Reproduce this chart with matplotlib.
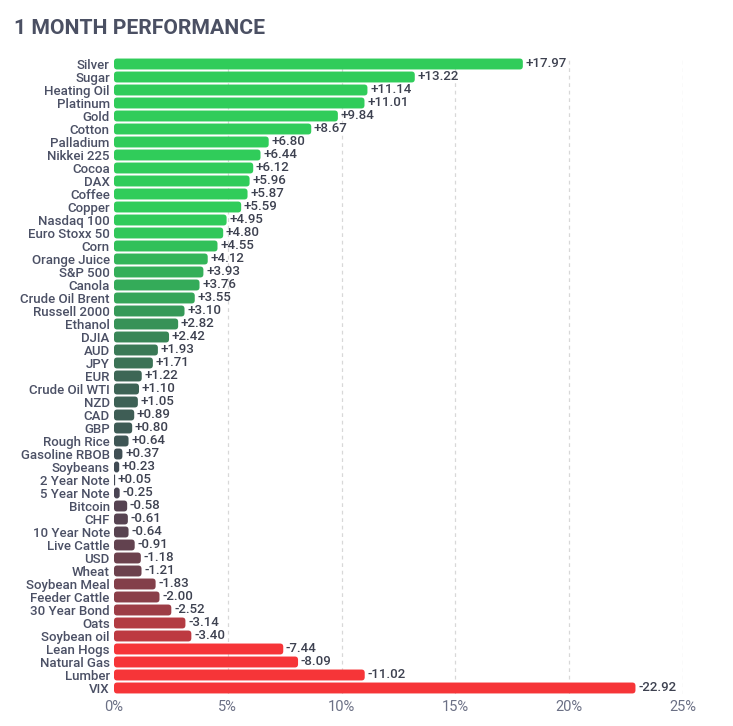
import numpy as np
import matplotlib
matplotlib.use("Agg")
import matplotlib.pyplot as plt
from matplotlib import font_manager as fm
from matplotlib.patches import FancyBboxPatch
from matplotlib.colors import LinearSegmentedColormap, Normalize

# ── Dados ─────────────────────────────────────────────────────────────────────
names = [
    "Silver", "Sugar", "Heating Oil", "Platinum", "Gold", "Cotton", "Palladium",
    "Nikkei 225", "Cocoa", "DAX", "Coffee", "Copper", "Nasdaq 100",
    "Euro Stoxx 50", "Corn", "Orange Juice", "S&P 500", "Canola",
    "Crude Oil Brent", "Russell 2000", "Ethanol", "DJIA", "AUD", "JPY", "EUR",
    "Crude Oil WTI", "NZD", "CAD", "GBP", "Rough Rice", "Gasoline RBOB",
    "Soybeans", "2 Year Note", "5 Year Note", "Bitcoin", "CHF", "10 Year Note",
    "Live Cattle", "USD", "Wheat", "Soybean Meal", "Feeder Cattle",
    "30 Year Bond", "Oats", "Soybean oil", "Lean Hogs", "Natural Gas",
    "Lumber", "VIX",
]
perf = [
    17.97, 13.22, 11.14, 11.01, 9.84, 8.67, 6.80, 6.44, 6.12, 5.96, 5.87,
    5.59, 4.95, 4.80, 4.55, 4.12, 3.93, 3.76, 3.55, 3.10, 2.82, 2.42, 1.93,
    1.71, 1.22, 1.10, 1.05, 0.89, 0.80, 0.64, 0.37, 0.23, 0.05, -0.25, -0.58,
    -0.61, -0.64, -0.91, -1.18, -1.21, -1.83, -2.00, -2.52, -3.14, -3.40,
    -7.44, -8.09, -11.02, -22.92,
]
xticks = [0, 5, 10, 15, 20, 25]

# ── Cores (vermelho → cinza → verde) ──────────────────────────────────────────
cmap = LinearSegmentedColormap.from_list(
    "perf", ["#f63538", "#414554", "#30cc5a"])
norm = Normalize(vmin=-5, vmax=5, clip=True)

TXT = "#4b5065"
FONT = "Roboto"
narrow = "Liberation Sans Narrow"
if not any(f.name == narrow for f in fm.fontManager.ttflist):
    narrow = FONT

fig = plt.figure(figsize=(7.33, 7.26), dpi=100)
ax = fig.add_axes([0.1555, 0.0434, 0.7760, 0.8774])
ax.set_ylim(len(names) - 0.5, -0.5)
ax.set_xlim(0, 25)

y = np.arange(len(names))
vals = np.array(perf)
colors = [cmap(norm(v)) for v in vals]
bars = ax.barh(y, np.abs(vals), height=0.84, color=colors)

# barras com cantos arredondados
bb = ax.get_window_extent()
aspect = (len(names) / bb.height) / (25 / bb.width)
for b in bars:
    x0, y0, w, h = b.get_x(), b.get_y(), b.get_width(), b.get_height()
    r = min(0.14, w / 2)
    p = FancyBboxPatch((x0, y0), w, h,
                       boxstyle=f"round,pad=0,rounding_size={r}",
                       mutation_aspect=aspect, fc=b.get_facecolor(),
                       ec="none", zorder=3)
    b.remove()
    ax.add_patch(p)

for yi, v in zip(y, vals):
    ax.text(abs(v) + 0.12, yi, f"{v:+.2f}", va="center", ha="left",
            fontsize=9.5, color="#3d4150", fontweight="medium",
            family=FONT, zorder=4)

ax.set_yticks(y)
ax.set_yticklabels(names, fontsize=9.5, color=TXT, family=FONT,
                   fontweight="medium")
ax.set_xticks(xticks)
ax.set_xticklabels([f"{t}%" for t in xticks], fontsize=10.5, color="#6b7085",
                   family=narrow)
ax.tick_params(length=0, pad=3)
ax.tick_params(axis="x", pad=4)

for t in xticks[1:]:
    ax.axvline(t, color="#d8d8d8", lw=0.9, ls=(0, (3, 3)), zorder=1)

for s in ax.spines.values():
    s.set_visible(False)

fig.text(14 / 733, 1 - 28 / 726, "1 MONTH PERFORMANCE", fontsize=15.2,
         fontweight="bold", color="#4b5063", va="center", ha="left",
         family=FONT)

fig.savefig("out.png", dpi=100)
